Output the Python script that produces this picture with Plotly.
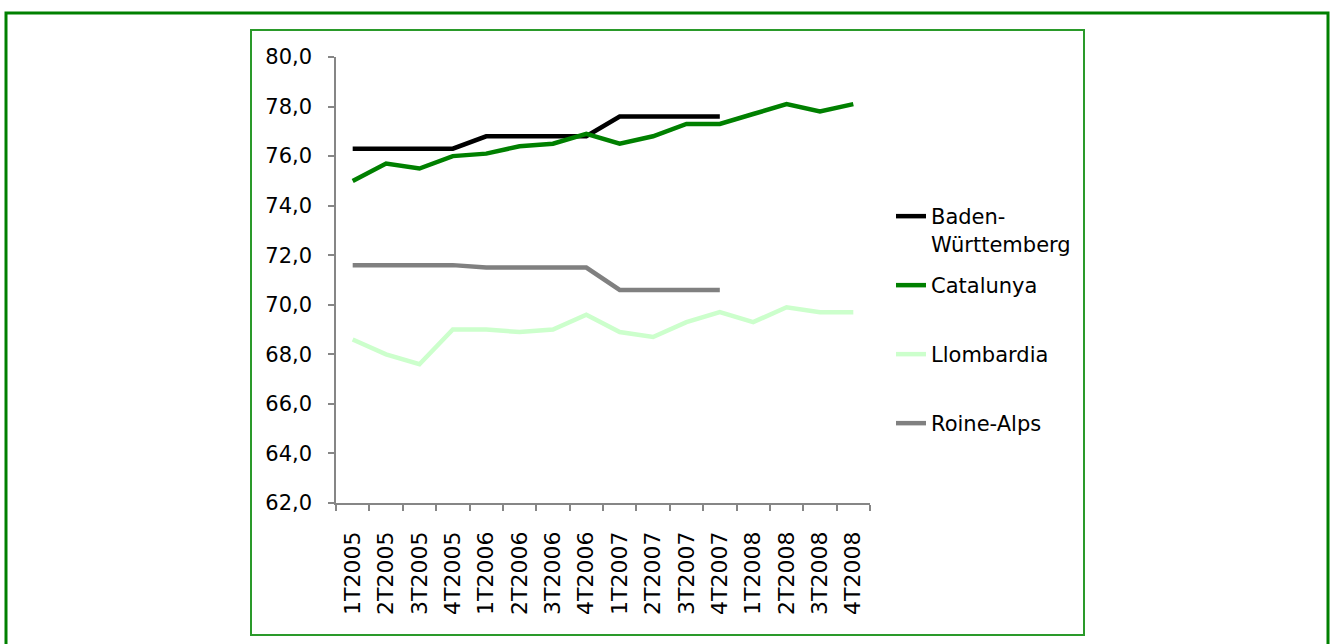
import plotly.graph_objects as go

categories = ["1T2005", "2T2005", "3T2005", "4T2005",
              "1T2006", "2T2006", "3T2006", "4T2006",
              "1T2007", "2T2007", "3T2007", "4T2007",
              "1T2008", "2T2008", "3T2008", "4T2008"]

baden = [76.3, 76.3, 76.3, 76.3, 76.8, 76.8, 76.8, 76.8,
         77.6, 77.6, 77.6, 77.6, None, None, None, None]
catalunya = [75.0, 75.7, 75.5, 76.0, 76.1, 76.4, 76.5, 76.9,
             76.5, 76.8, 77.3, 77.3, 77.7, 78.1, 77.8, 78.1]
llombardia = [68.6, 68.0, 67.6, 69.0, 69.0, 68.9, 69.0, 69.6,
              68.9, 68.7, 69.3, 69.7, 69.3, 69.9, 69.7, 69.7]
roine = [71.6, 71.6, 71.6, 71.6, 71.5, 71.5, 71.5, 71.5,
         70.6, 70.6, 70.6, 70.6, None, None, None, None]

series_names = ["Baden-<br>Württemberg", "Catalunya", "Llombardia", "Roine-Alps"]
series_values = [baden, catalunya, llombardia, roine]
series_colors = ["#000000", "#008000", "#CCFFCC", "#808080"]

W, H = 1331, 644
L, R, T, B = 336, 870, 57, 503  # plot area in pixels
PW, PH = R - L, B - T


def px(x):
    return (x - L) / PW


def py(y):
    return (B - y) / PH


FONT = "DejaVu Sans, Liberation Sans, Arial, sans-serif"
FS = 21

fig = go.Figure()
legend_ids = ["legend", "legend2", "legend3", "legend4"]
for name, vals, col, lg in zip(series_names, series_values, series_colors, legend_ids):
    fig.add_trace(go.Scatter(
        x=categories, y=vals, name=name, mode="lines",
        line=dict(color=col, width=4.5),
        connectgaps=False, legend=lg,
    ))

legend_tops = [196, 265, 334, 403]
common_legend = dict(
    xanchor="left", yanchor="top", x=px(891),
    bgcolor="rgba(0,0,0,0)", borderwidth=0,
    font=dict(family=FONT, size=FS, color="#000000"),
    valign="top", itemclick=False, itemdoubleclick=False,
)
legend_layout = {}
for lg, top in zip(legend_ids, legend_tops):
    d = dict(common_legend)
    d["y"] = py(top)
    legend_layout[lg] = d

axis_col = "#868686"

fig.update_layout(
    width=W, height=H,
    margin=dict(l=L, r=W - R, t=T, b=H - B, autoexpand=False),
    paper_bgcolor="white", plot_bgcolor="white",
    showlegend=True,
    separators=",.",
    font=dict(family=FONT, size=FS, color="#000000"),
    xaxis=dict(
        type="category", range=[-0.5, 15.5],
        showgrid=False, zeroline=False,
        showline=True, linecolor=axis_col, linewidth=1.5,
        ticks="outside", ticklen=6, tickcolor=axis_col, tickwidth=1.5,
        tickson="boundaries", tickangle=-90,
        tickfont=dict(family=FONT, size=22, color="#000000"),
        ticklabelstandoff=18,
    ),
    yaxis=dict(
        range=[62, 80], dtick=2, tick0=62, tickformat=".1f",
        showgrid=False, zeroline=False,
        showline=True, linecolor=axis_col, linewidth=1.5,
        ticks="outside", ticklen=6, tickcolor=axis_col, tickwidth=1.5,
        tickfont=dict(family=FONT, size=FS, color="#000000"),
        ticklabelstandoff=12,
    ),
    shapes=[
        dict(type="rect", xref="paper", yref="paper",
             x0=px(6), x1=px(1328), y0=py(660), y1=py(13),
             line=dict(color="#008000", width=3), layer="below"),
        dict(type="rect", xref="paper", yref="paper",
             x0=px(251), x1=px(1084), y0=py(635), y1=py(30),
             line=dict(color="#2a9a2a", width=2), layer="below"),
    ],
    **legend_layout,
)

fig.write_html(
    "out.html",
    config={"displayModeBar": False},
    post_script="document.body.style.margin='0';document.body.style.overflow='hidden';",
)
